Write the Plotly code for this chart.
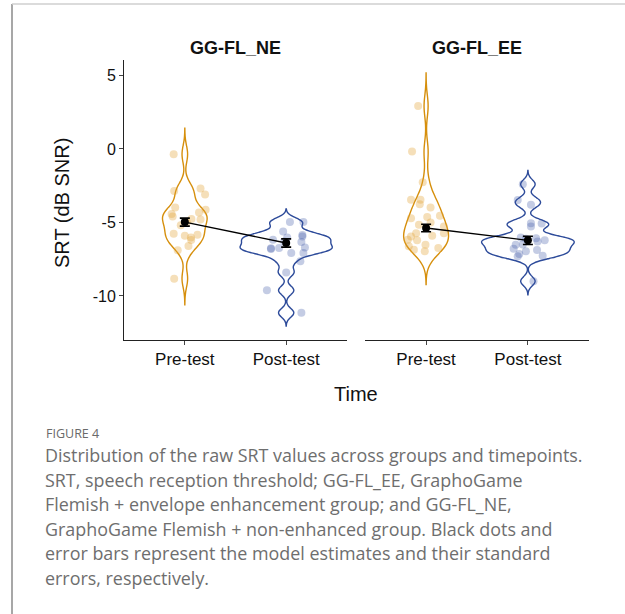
import numpy as np
import plotly.graph_objects as go

# ---------------- data ----------------
categories = ["Pre-test", "Post-test"]
groups = ["GG-FL_NE", "GG-FL_EE"]

pre_ne = [-0.36, -2.87, -2.69, -3.10, -3.98, -4.14, -4.43, -4.60, -4.32, -4.77,
          -4.80, -5.00, -5.20, -5.77, -5.90, -6.02, -5.84, -6.20, -6.60, -6.90, -8.83]
pre_ne_jit = [-0.11, -0.105, 0.155, 0.20, -0.095, 0.205, -0.13, -0.12, 0.14, 0.065,
              0.155, 0.02, -0.04, -0.11, 0.0, 0.06, 0.125, 0.063, 0.036, -0.07, -0.105]

post_ne = [-4.98, -4.98, -5.61, -6.02, -5.95, -5.85, -6.33, -6.18, -6.74, -6.81,
           -6.29, -6.70, -7.08, -7.08, -7.65, -8.40, -9.62, -11.15, -6.75]
post_ne_jit = [0.037, 0.17, -0.03, 0.01, 0.16, 0.16, 0.15, -0.13, -0.07, -0.15,
               -0.02, 0.185, 0.05, 0.17, 0.14, 0.0, -0.19, 0.15, -0.15]

pre_ee = [2.92, -0.18, -2.26, -3.46, -3.46, -3.76, -3.98, -4.64, -4.55, -4.72,
          -5.27, -5.73, -5.73, -5.95, -6.18, -6.22, -5.90, -6.52, -6.63, -6.86,
          -6.97, -6.74, -5.16, -5.00]
pre_ee_jit = [-0.078, -0.138, -0.033, -0.148, -0.055, -0.062, 0.044, 0.011, 0.136, -0.148,
              0.175, 0.175, -0.098, -0.148, -0.18, -0.088, 0.06, -0.006, -0.17, -0.12,
              -0.013, 0.12, -0.07, 0.044]

post_ee = [-2.40, -3.48, -3.80, -5.05, -5.27, -5.07, -6.02, -6.11, -6.07, -6.22,
           -6.30, -6.52, -6.79, -6.97, -6.88, -7.15, -7.31, -7.27, -9.00, -6.50]
post_ee_jit = [-0.05, -0.10, 0.03, 0.03, 0.03, 0.135, -0.07, -0.02, 0.08, 0.165,
               0.095, -0.12, -0.14, -0.02, 0.09, -0.085, -0.10, 0.145, 0.055, -0.05]

est_ne = [-4.98, -6.40]
se_ne = [0.27, 0.28]
est_ee = [-5.38, -6.22]
se_ee = [0.26, 0.28]

y_ticks = [5, 0, -5, -10]
y_tick_labels = ["5", "0", "-5", "-10"]

caption_head = "FIGURE 4"
caption_lines = [
    "Distribution of the raw SRT values across groups and timepoints.",
    "SRT, speech reception threshold; GG-FL_EE, GraphoGame",
    "Flemish + envelope enhancement group; and GG-FL_NE,",
    "GraphoGame Flemish + non-enhanced group. Black dots and",
    "error bars represent the model estimates and their standard",
    "errors, respectively.",
]

# ---------------- styling ----------------
W, H = 625, 614
ORANGE = "#D68F0C"
ORANGE_PT = "rgba(225,162,55,0.35)"
BLUE = "#2D4B9A"
BLUE_PT = "rgba(60,85,165,0.30)"
FONT = "Liberation Sans, Arial, sans-serif"
CAP_FONT = "Open Sans, sans-serif"
# kernel bandwidths and max violin widths (style, per panel: pre, post)
BANDWIDTHS = {"x": (0.59, 0.30), "x2": (0.75, 0.31)}
VIOLIN_W = {"x": (0.44, 0.91), "x2": (0.44, 0.91)}


def px_x(v):
    return v / W


def px_y(v):
    return 1 - v / H


fig = go.Figure()

panels = [
    ("x", "y", pre_ne, pre_ne_jit, post_ne, post_ne_jit, est_ne, se_ne),
    ("x2", "y2", pre_ee, pre_ee_jit, post_ee, post_ee_jit, est_ee, se_ee),
]

for xa, ya, pre, prej, post, postj, est, se in panels:
    sets = [(pre, prej, 0, ORANGE, ORANGE_PT), (post, postj, 1, BLUE, BLUE_PT)]
    for (vals, jit, pos, col, ptcol), bw, vw in zip(sets, BANDWIDTHS[xa], VIOLIN_W[xa]):
        fig.add_trace(go.Violin(
            y=vals, x0=pos, xaxis=xa, yaxis=ya,
            bandwidth=bw, spanmode="manual",
            span=[min(vals) - 3 * bw, max(vals) + 3 * bw],
            scalemode="width", scalegroup=f"{xa}{pos}", width=vw,
            line=dict(color=col, width=1.4), fillcolor="rgba(0,0,0,0)",
            points=False, box_visible=False, meanline_visible=False,
            showlegend=False, hoverinfo="skip",
        ))
    for (vals, jit, pos, col, ptcol) in sets:
        fig.add_trace(go.Scatter(
            x=[pos + j for j in jit], y=vals, xaxis=xa, yaxis=ya, mode="markers",
            marker=dict(size=8, color=ptcol, line=dict(width=0)),
            showlegend=False, hoverinfo="skip",
        ))
    fig.add_trace(go.Scatter(
        x=[0, 1], y=est, xaxis=xa, yaxis=ya, mode="lines",
        line=dict(color="black", width=1.3), showlegend=False, hoverinfo="skip",
    ))
    fig.add_trace(go.Scatter(
        x=[0, 1], y=est, xaxis=xa, yaxis=ya, mode="markers",
        marker=dict(size=8, color="black"),
        error_y=dict(type="data", array=se, color="black", thickness=1.6, width=5),
        showlegend=False, hoverinfo="skip",
    ))

yr = [-13.0, 6.05]
ydom = [px_y(340), px_y(60)]
common_x = dict(
    range=[-0.6, 1.6], tickmode="array", tickvals=[0, 1], ticktext=categories,
    showline=True, linecolor="#222", linewidth=1, ticks="outside", ticklen=4,
    tickcolor="#444", showgrid=False, zeroline=False,
    tickfont=dict(family=FONT, size=17, color="#111"), fixedrange=True,
)
fig.update_layout(
    width=W, height=H, margin=dict(l=0, r=0, t=0, b=0),
    paper_bgcolor="white", plot_bgcolor="white",
    xaxis=dict(domain=[px_x(124), px_x(347)], anchor="y", **common_x),
    xaxis2=dict(domain=[px_x(365), px_x(589)], anchor="y2", **common_x),
    yaxis=dict(domain=ydom, range=yr, anchor="x", tickmode="array",
               tickvals=y_ticks, ticktext=y_tick_labels,
               showline=True, linecolor="#222", linewidth=1, ticks="outside",
               ticklen=4, tickcolor="#444", showgrid=False, zeroline=False,
               tickfont=dict(family=FONT, size=16, color="#111")),
    yaxis2=dict(domain=ydom, range=yr, anchor="x2", matches="y",
                showline=False, showticklabels=False, ticks="",
                showgrid=False, zeroline=False),
    showlegend=False,
)

ann = []
for g, cx in zip(groups, [235.5, 477]):
    ann.append(dict(text=f"<b>{g}</b>", x=px_x(cx), y=px_y(48), xref="paper", yref="paper",
                    xanchor="center", yanchor="middle", showarrow=False,
                    font=dict(family=FONT, size=18, color="#111")))
ann.append(dict(text="SRT (dB SNR)", x=px_x(62), y=px_y(203), xref="paper", yref="paper",
                textangle=-90, xanchor="center", yanchor="middle", showarrow=False,
                font=dict(family=FONT, size=20, color="#111")))
ann.append(dict(text="Time", x=px_x(356), y=px_y(394), xref="paper", yref="paper",
                xanchor="center", yanchor="middle", showarrow=False,
                font=dict(family=FONT, size=20, color="#111")))
ann.append(dict(text=caption_head, x=px_x(44), y=px_y(433), xref="paper", yref="paper",
                xanchor="left", yanchor="middle", showarrow=False,
                font=dict(family=CAP_FONT, size=12.5, color="#6a6a6a")))
for i, line in enumerate(caption_lines):
    ann.append(dict(text=line, x=px_x(43), y=px_y(455 + 24.5 * i), xref="paper", yref="paper",
                    xanchor="left", yanchor="middle", showarrow=False,
                    font=dict(family=CAP_FONT, size=17.9, color="#6e6e6e")))
fig.update_layout(annotations=ann)

fig.update_layout(shapes=[
    dict(type="line", xref="paper", yref="paper", x0=px_x(12), x1=px_x(12),
         y0=px_y(4), y1=0, line=dict(color="#8a8a8a", width=1.5)),
    dict(type="line", xref="paper", yref="paper", x0=px_x(12), x1=1,
         y0=px_y(4), y1=px_y(4), line=dict(color="#cfcfcf", width=1.5)),
])

fig.write_html("out.html")
